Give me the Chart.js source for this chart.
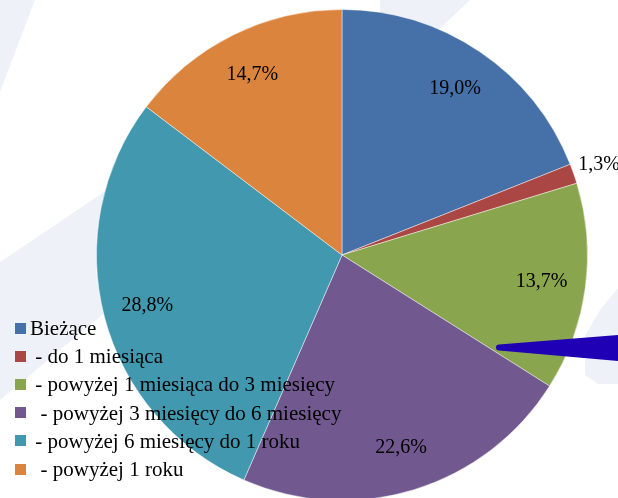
<!DOCTYPE html>
<html lang="pl">
<head>
<meta charset="utf-8">
<title>Struktura należności</title>
<script src="https://cdn.jsdelivr.net/npm/chart.js@4/dist/chart.umd.min.js"></script>
<style>
    html, body { margin: 0; padding: 0; background: #fff; }
    #wrap { position: relative; width: 618px; height: 498px; overflow: hidden; }
    #pie { position: absolute; left: 0; top: 0; }
    #legend {
        position: absolute; left: 15px; top: 314px;
        font-family: 'Liberation Serif', 'Times New Roman', serif;
        font-size: 21px; color: #000;
    }
    #legend .row { height: 28.2px; line-height: 28.2px; white-space: pre; display: flex; align-items: center; }
    #legend .box { width: 11px; height: 11px; margin-right: 4px; flex: none; }
</style>
</head>
<body>
<div id="wrap">
    <canvas id="pie" width="618" height="502"></canvas>
    <div id="legend"></div>
</div>
<script>
// Kategorie i udziały procentowe
const labels = [
    'Bieżące',
    ' - do 1 miesiąca',
    ' - powyżej 1 miesiąca do 3 miesięcy',
    '  - powyżej 3 miesięcy do 6 miesięcy',
    ' - powyżej 6 miesięcy do 1 roku',
    '  - powyżej 1 roku'
];
const shares = [19.0, 1.3, 13.7, 22.6, 28.8, 14.7];
const colors = ['#4571a8', '#aa4643', '#89a54e', '#71588f', '#4198af', '#db843d'];

// jasne tło (kształty w tle slajdu)
const backdrop = {
    id: 'backdrop',
    beforeDraw(chart) {
        const ctx = chart.ctx;
        ctx.save();
        ctx.fillStyle = '#ffffff';
        ctx.fillRect(0, 0, chart.width, chart.height);
        ctx.fillStyle = '#eef2f8';
        const shapes = [
            [[0, 0], [35, 0], [0, 92]],
            [[0, 262], [110, 188], [120, 300], [0, 400]],
            [[380, 0], [470, 0], [438, 30], [380, 30]],
            [[618, 288], [600, 310], [585, 336], [585, 375], [598, 384], [618, 384]]
        ];
        shapes.forEach(pts => {
            ctx.beginPath();
            pts.forEach(([x, y], i) => i ? ctx.lineTo(x, y) : ctx.moveTo(x, y));
            ctx.closePath();
            ctx.fill();
        });
        ctx.restore();
    }
};

// etykiety procentowe na wycinkach
const sliceLabels = {
    id: 'sliceLabels',
    afterDatasetsDraw(chart) {
        const ctx = chart.ctx;
        const meta = chart.getDatasetMeta(0);
        ctx.save();
        ctx.font = '20px "Liberation Serif", "Times New Roman", serif';
        ctx.fillStyle = '#000';
        ctx.textAlign = 'center';
        ctx.textBaseline = 'middle';
        meta.data.forEach((arc, i) => {
            const p = arc.getProps(['x', 'y', 'startAngle', 'endAngle', 'outerRadius'], true);
            const mid = (p.startAngle + p.endAngle) / 2;
            const k = shares[i] < 3 ? 1.11 : 0.82;
            const x = p.x + Math.cos(mid) * p.outerRadius * k;
            const y = p.y + Math.sin(mid) * p.outerRadius * k;
            ctx.fillText(shares[i].toFixed(1).replace('.', ',') + '%', x, y);
        });
        ctx.restore();
    }
};

// niebieska strzałka z prawej strony
const pointer = {
    id: 'pointer',
    afterDraw(chart) {
        const ctx = chart.ctx;
        ctx.save();
        ctx.fillStyle = '#1f00b5';
        ctx.beginPath();
        ctx.moveTo(618, 335);
        ctx.lineTo(499, 344.5);
        ctx.arc(499, 347.5, 3, -Math.PI / 2, Math.PI / 2, true);
        ctx.lineTo(618, 361);
        ctx.closePath();
        ctx.fill();
        ctx.restore();
    }
};

new Chart(document.getElementById('pie'), {
    type: 'pie',
    data: {
        labels: labels,
        datasets: [{
            data: shares,
            backgroundColor: colors,
            borderColor: 'rgba(255,255,255,0.45)',
            borderWidth: 1
        }]
    },
    options: {
        responsive: false,
        animation: false,
        layout: { padding: { top: 9, bottom: 1, left: 96, right: 30 } },
        plugins: {
            legend: { display: false },
            tooltip: { enabled: false }
        }
    },
    plugins: [backdrop, sliceLabels, pointer]
});

// legenda w HTML, nałożona na wykres
document.getElementById('legend').innerHTML = labels.map((name, i) => `
    <div class="row"><span class="box" style="background:${colors[i]}"></span>${name}</div>
`).join('');
</script>
</body>
</html>
